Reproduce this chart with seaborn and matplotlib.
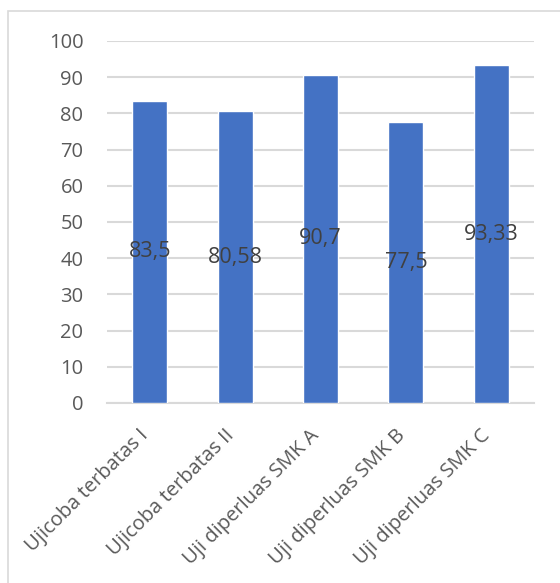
import matplotlib
matplotlib.use("Agg")
import matplotlib.pyplot as plt
import matplotlib.transforms as mtransforms
import seaborn as sns
import pandas as pd
from matplotlib.patches import Rectangle

categories = ["Ujicoba terbatas I", "Ujicoba terbatas II", "Uji diperluas SMK A",
              "Uji diperluas SMK B", "Uji diperluas SMK C"]
values = [83.5, 80.58, 90.7, 77.5, 93.33]
value_labels = ["83,5", "80,58", "90,7", "77,5", "93,33"]
yticks = [0, 10, 20, 30, 40, 50, 60, 70, 80, 90, 100]

sns.set_theme(style="white")
plt.rcParams["font.family"] = ["Open Sans", "DejaVu Sans"]

df = pd.DataFrame({"cat": categories, "val": values})

fig = plt.figure(figsize=(5.6, 5.83), dpi=100)
fig.patch.set_facecolor("white")
fig.patches.append(Rectangle((8/560, -0.1), 1.2, 1 - 11.5/583 + 0.1, transform=fig.transFigure,
                             fill=False, edgecolor="#D9D9D9", linewidth=1.2, zorder=0))
ax = fig.add_axes([107/560, 1 - 403/583, (534 - 107)/560, (403 - 41)/583])

sns.barplot(data=df, x="cat", y="val", color="#4472C4", saturation=1, width=0.41, ax=ax, zorder=3)

ax.set_ylim(0, 100)
ax.set_yticks(yticks)
ax.set_yticklabels([str(t) for t in yticks], fontsize=14.5, color="#595959")
ax.yaxis.grid(True, color="#D9D9D9", linewidth=1.5, zorder=0)
ax.set_axisbelow(True)
for s in ["top", "right", "left"]:
    ax.spines[s].set_visible(False)
ax.spines["bottom"].set_color("#D9D9D9")
ax.spines["bottom"].set_linewidth(1.5)
ax.tick_params(axis="y", length=0, pad=17)
ax.tick_params(axis="x", length=0, pad=21.5)
ax.set_xlabel("")
ax.set_ylabel("")
ax.set_xticks(range(len(categories)))
ax.set_xticklabels(categories, rotation=45, ha="right", va="center", rotation_mode="anchor",
                   fontsize=14.5, color="#595959")
shift = mtransforms.ScaledTranslation(-4/100, 0, fig.dpi_scale_trans)
for lbl in ax.get_xticklabels():
    lbl.set_transform(lbl.get_transform() + shift)
ax.set_xlim(-0.5, len(categories) - 0.5)

ax.bar_label(ax.containers[0], labels=value_labels, label_type="center",
             fontsize=15.5, color="#404040")

fig.savefig("out.png", dpi=100)
